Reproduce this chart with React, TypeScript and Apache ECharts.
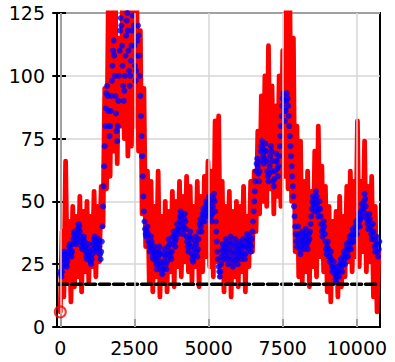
import React, { useEffect, useRef } from "react";
import * as echarts from "echarts";

// Red noisy signal, sampled every RED_STEP units starting at 0
const RED_STEP = 60;
const redValues = [
  6, 38, 12, 66, 18, 42, 10, 48, 16, 44,
  20, 52, 14, 46, 22, 50, 18, 44, 24, 54,
  20, 48, 26, 56, 40, 95, 55, 130, 60, 130,
  70, 130, 65, 115, 80, 130, 75, 130, 68, 130,
  72, 130, 80, 130, 70, 118, 45, 95, 32, 62,
  18, 58, 14, 48, 20, 62, 12, 44, 18, 50,
  14, 46, 22, 54, 16, 50, 24, 58, 20, 52,
  26, 60, 22, 56, 18, 48, 24, 58, 16, 52,
  22, 60, 28, 66, 24, 62, 20, 82, 26, 84,
  20, 58, 14, 48, 18, 54, 12, 46, 20, 50,
  16, 48, 22, 56, 14, 44, 24, 58, 30, 62,
  38, 78, 45, 92, 50, 100, 48, 112, 55, 96,
  45, 88, 52, 100, 48, 110, 60, 130, 55, 130,
  50, 115, 30, 80, 20, 74, 18, 58, 22, 62,
  16, 54, 24, 70, 20, 80, 28, 64, 22, 56,
  14, 48, 10, 42, 18, 46, 12, 52, 16, 44,
  20, 56, 26, 62, 22, 58, 28, 82, 24, 58,
  30, 74, 22, 56, 26, 60, 12, 48, 6, 30,
];

// Blue smoothed signal, sampled every BLUE_STEP units starting at 0
const BLUE_STEP = 20;
const blueValues = [
  22, 21, 20, 22, 24, 26, 28, 30, 29, 27, 25, 24, 26, 28, 30, 32, 33, 31, 29, 28,
  30, 33, 35, 37, 38, 36, 34, 33, 35, 37, 39, 41, 40, 38, 36, 34, 32, 31, 33, 35,
  36, 34, 32, 30, 28, 27, 29, 31, 33, 30, 28, 26, 25, 27, 29, 31, 33, 35, 36, 34,
  32, 30, 31, 33, 35, 34, 32, 29, 27, 30, 34, 40, 48, 56, 64, 72, 80, 87, 93, 96,
  92, 86, 80, 76, 80, 86, 92, 98, 104, 110, 114, 108, 100, 92, 85, 78, 74, 80, 90, 100,
  110, 118, 123, 120, 112, 104, 96, 90, 94, 100, 108, 116, 122, 125, 118, 110, 102, 96, 100, 106,
  112, 118, 124, 126, 120, 112, 104, 98, 102, 108, 114, 120, 116, 108, 100, 92, 84, 76, 68, 60,
  52, 46, 42, 39, 37, 36, 38, 40, 37, 34, 32, 30, 33, 36, 34, 31, 28, 27, 29, 32,
  30, 27, 25, 23, 25, 28, 30, 32, 29, 26, 24, 22, 21, 23, 26, 29, 31, 28, 25, 23,
  26, 29, 32, 35, 33, 30, 28, 27, 30, 33, 36, 38, 36, 34, 32, 35, 38, 41, 39, 37,
  39, 42, 44, 46, 44, 41, 39, 37, 40, 43, 45, 42, 39, 36, 34, 32, 30, 33, 36, 38,
  35, 32, 29, 27, 26, 28, 31, 34, 36, 33, 30, 28, 31, 35, 38, 41, 43, 40, 38, 42,
  45, 47, 44, 42, 45, 48, 50, 47, 44, 46, 49, 52, 50, 47, 44, 42, 45, 48, 51, 53,
  50, 46, 42, 38, 34, 30, 27, 24, 22, 20, 22, 25, 28, 31, 33, 30, 27, 29, 32, 35,
  33, 30, 27, 25, 28, 31, 34, 36, 33, 30, 27, 24, 26, 29, 32, 35, 33, 30, 27, 25,
  28, 31, 34, 32, 29, 27, 30, 33, 35, 32, 29, 27, 29, 32, 35, 37, 34, 31, 33, 36,
  33, 30, 32, 35, 38, 42, 46, 50, 54, 58, 62, 65, 67, 64, 61, 58, 62, 66, 70, 72,
  74, 71, 68, 65, 67, 70, 73, 70, 66, 62, 60, 58, 61, 64, 68, 72, 70, 66, 62, 58,
  56, 59, 62, 66, 69, 66, 63, 60, 64, 68, 72, 76, 80, 84, 88, 91, 93, 90, 86, 82,
  86, 90, 93, 91, 88, 84, 80, 76, 72, 68, 64, 60, 56, 52, 48, 44, 40, 37, 34, 32,
  36, 40, 37, 34, 31, 29, 32, 35, 38, 36, 33, 31, 34, 37, 39, 36, 33, 31, 34, 37,
  35, 38, 41, 44, 47, 50, 52, 49, 46, 48, 51, 54, 52, 49, 46, 44, 47, 50, 47, 44,
  41, 38, 36, 39, 42, 40, 37, 34, 31, 29, 32, 34, 31, 28, 26, 28, 30, 27, 24, 22,
  24, 26, 23, 21, 19, 18, 20, 22, 24, 22, 20, 22, 25, 27, 24, 22, 25, 28, 30, 27,
  25, 28, 31, 33, 30, 28, 31, 34, 36, 33, 31, 34, 37, 39, 36, 34, 37, 40, 42, 39,
  37, 40, 43, 45, 42, 40, 43, 46, 49, 47, 44, 47, 50, 53, 51, 48, 45, 43, 41, 39,
  42, 45, 43, 40, 37, 35, 38, 41, 38, 35, 32, 30, 33, 36, 33, 30, 28, 31, 34,
];

const THRESHOLD = 17;
const THRESHOLD_X = [-90, 10760];
const START_POINT = [0, 6];

const X_MIN = -110;
const X_MAX = 10780;
const X_TICKS = [0, 2500, 5000, 7500, 10000];
const Y_MIN = 0;
const Y_MAX = 125;
const Y_INTERVAL = 25;

const FONT = "DejaVu Sans";
const GRID_COLOR = "#d6d6d6";

export default function App() {
  const ref = useRef<HTMLDivElement>(null);

  useEffect(() => {
    if (!ref.current) return;
    const chart = echarts.init(ref.current, null, { renderer: "svg" });
    const redData = redValues.map((v, i) => [i * RED_STEP, v]);
    const blueData = blueValues.map((v, i) => [i * BLUE_STEP, v]);
    const thrData = THRESHOLD_X.map((x) => [x, THRESHOLD]);

    const label = { fontFamily: FONT, fontSize: 19, color: "#000" };

    chart.setOption({
      animation: false,
      backgroundColor: "#fff",
      grid: {
        left: 57,
        right: 15,
        top: 13,
        bottom: 35,
        show: true,
        borderColor: "#000",
        borderWidth: 2,
        backgroundColor: "transparent",
      },
      xAxis: {
        type: "value",
        min: X_MIN,
        max: X_MAX,
        axisLine: { show: true, lineStyle: { color: "#000", width: 2 } },
        axisTick: {
          show: true,
          inside: true,
          length: 8,
          customValues: X_TICKS,
          lineStyle: { color: "#000", width: 2 },
        },
        axisLabel: {
          ...label,
          margin: 11,
          customValues: X_TICKS,
          formatter: (v: number) => String(v),
        },
        splitLine: { show: false },
      },
      yAxis: [
        {
          type: "value",
          min: Y_MIN,
          max: Y_MAX,
          interval: Y_INTERVAL,
          axisLine: { show: true, lineStyle: { color: "#000", width: 2 } },
          axisTick: { show: true, inside: false, length: 8, lineStyle: { color: "#000", width: 2 } },
          axisLabel: { ...label, margin: 12 },
          splitLine: { show: true, lineStyle: { color: GRID_COLOR, width: 1.5 } },
        },
        {
          type: "value",
          position: "left",
          min: Y_MIN,
          max: Y_MAX,
          interval: Y_INTERVAL,
          axisLine: { show: false },
          axisTick: { show: true, inside: true, length: 9, lineStyle: { color: "#000", width: 2 } },
          axisLabel: { show: false },
          splitLine: { show: false },
        },
      ],
      series: [
        {
          type: "line",
          data: [],
          silent: true,
          z: 1,
          markLine: {
            silent: true,
            symbol: "none",
            label: { show: false },
            lineStyle: { color: GRID_COLOR, width: 1.5, type: "solid" },
            data: X_TICKS.map((x) => ({ xAxis: x })),
          },
        },
        {
          type: "line",
          data: redData,
          showSymbol: false,
          symbol: "none",
          lineStyle: { color: "#ff0000", width: 4.8, cap: "round", join: "round" },
          z: 2,
        },
        {
          type: "scatter",
          data: blueData,
          symbol: "circle",
          symbolSize: 6,
          itemStyle: { color: "#0000ff" },
          z: 3,
        },
        {
          type: "line",
          data: thrData,
          showSymbol: false,
          symbol: "none",
          lineStyle: { color: "#000", width: 3.5, type: [10, 4], cap: "round" },
          z: 4,
        },
        {
          type: "scatter",
          data: [START_POINT],
          symbol: "circle",
          symbolSize: 11,
          itemStyle: { color: "transparent", borderColor: "#ff0000", borderWidth: 2 },
          z: 5,
        },
      ],
    });
    return () => chart.dispose();
  }, []);

  return (
    <div
      ref={ref}
      style={{ position: "fixed", left: 0, top: 0, width: 395, height: 362 }}
    />
  );
}
